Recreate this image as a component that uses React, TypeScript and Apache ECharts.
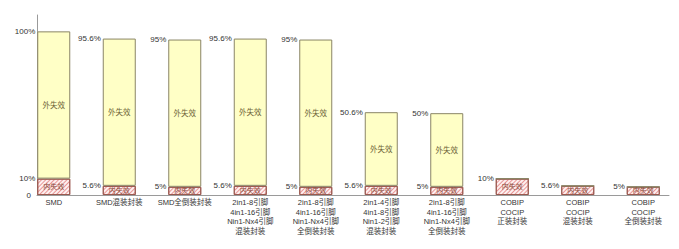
import React, { useEffect, useRef } from "react";
import * as echarts from "echarts";

const categories = [
  "SMD",
  "SMD混装封装",
  "SMD全倒装封装",
  "2in1-8引脚\n4in1-16引脚\nNin1-Nx4引脚\n混装封装",
  "2in1-8引脚\n4in1-16引脚\nNin1-Nx4引脚\n全倒装封装",
  "2in1-4引脚\n4in1-8引脚\nNin1-2引脚\n混装封装",
  "2in1-8引脚\n4in1-16引脚\nNin1-Nx4引脚\n全倒装封装",
  "COBIP\nCOCIP\n正装封装",
  "COBIP\nCOCIP\n混装封装",
  "COBIP\nCOCIP\n全倒装封装",
];
const totalValues = [100, 95.6, 95, 95.6, 95, 50.6, 50, 10, 5.6, 5];
const innerValues = [10, 5.6, 5, 5.6, 5, 5.6, 5, 10, 5.6, 5];
const outerValues = totalValues.map((t, i) => +(t - innerValues[i]).toFixed(1));
const innerName = "内失效";
const outerName = "外失效";

const FONT = "'Liberation Sans', 'Noto Sans CJK SC', Arial, sans-serif";

export default function App() {
  const ref = useRef<HTMLDivElement>(null);
  useEffect(() => {
    if (!ref.current) return;
    const chart = echarts.init(ref.current, null, { renderer: "svg" });
    const hatch = {
      symbol: "rect",
      symbolSize: 1,
      dashArrayX: [1, 0],
      dashArrayY: [1, 2],
      rotation: -Math.PI / 4,
      color: "rgba(220,90,90,0.6)",
    };
    const pctLabel = (getVal: (i: number) => number, hideWhenZero: boolean) => ({
      show: true,
      position: [-2, 0] as any,
      align: "right",
      verticalAlign: "middle",
      fontSize: 8,
      fontFamily: FONT,
      color: "#333",
      formatter: (p: any) => {
        if (hideWhenZero && outerValues[p.dataIndex] === 0) return "";
        return getVal(p.dataIndex) + "%";
      },
    });
    chart.setOption({
      animation: false,
      grid: [
        { left: 21, right: 3, top: 15, bottom: 54 },
        { left: 37, right: 10, top: 15, bottom: 54 },
      ],
      xAxis: [
        {
          type: "category",
          gridIndex: 0,
          data: categories,
          axisLine: { show: false },
          axisTick: { show: false },
          axisLabel: {
            interval: 0,
            margin: 3,
            fontSize: 7.5,
            lineHeight: 9.5,
            color: "#333",
            fontFamily: FONT,
          },
        },
        {
          type: "value",
          gridIndex: 1,
          min: 0,
          max: 1,
          axisLine: { show: true, lineStyle: { color: "#9a9a9a", width: 1 } },
          axisTick: { show: false },
          axisLabel: { show: false },
          splitLine: { show: false },
        },
      ],
      yAxis: [
        {
          type: "value",
          gridIndex: 0,
          min: 0,
          max: 110,
          show: false,
        },
        {
          type: "value",
          gridIndex: 1,
          min: 0,
          max: 110,
          interval: 10,
          axisLine: { show: true, lineStyle: { color: "#9a9a9a", width: 1 } },
          axisTick: { show: false },
          splitLine: { show: false },
          axisLabel: {
            margin: 6,
            fontSize: 8,
            color: "#333",
            fontFamily: FONT,
            formatter: (v: number) => (v === 0 ? "0" : ""),
          },
        },
      ],
      series: [
        {
          type: "bar",
          name: innerName,
          stack: "a",
          barWidth: 33,
          barGap: "-100%",
          data: innerValues,
          itemStyle: {
            color: "#fdf0f0",
            borderColor: "#9a5a50",
            borderWidth: 1,
            decal: hatch,
          },
          label: {
            show: true,
            position: "inside",
            formatter: innerName,
            fontSize: 7,
            color: "#8a4a3a",
            fontFamily: FONT,
          },
        },
        {
          type: "bar",
          name: outerName,
          stack: "a",
          barWidth: 33,
          barGap: "-100%",
          data: outerValues,
          itemStyle: {
            color: "#ffffc6",
            borderColor: "#8a8566",
            borderWidth: 1,
          },
          label: {
            show: true,
            position: "inside",
            fontSize: 7.5,
            color: "#6e6438",
            fontFamily: FONT,
            formatter: (p: any) => (outerValues[p.dataIndex] > 0 ? outerName : ""),
          },
        },
        {
          type: "bar",
          stack: "b",
          barWidth: 33,
          barGap: "-100%",
          data: innerValues,
          itemStyle: { color: "rgba(0,0,0,0)" },
          silent: true,
          label: pctLabel((i) => innerValues[i], false),
        },
        {
          type: "bar",
          stack: "b",
          barWidth: 33,
          barGap: "-100%",
          data: outerValues,
          itemStyle: { color: "rgba(0,0,0,0)" },
          silent: true,
          label: pctLabel((i) => totalValues[i], true),
        },
      ],
    });
    return () => chart.dispose();
  }, []);
  return (
    <div
      ref={ref}
      style={{ position: "absolute", left: 0, top: 0, width: 679, height: 249 }}
    />
  );
}
